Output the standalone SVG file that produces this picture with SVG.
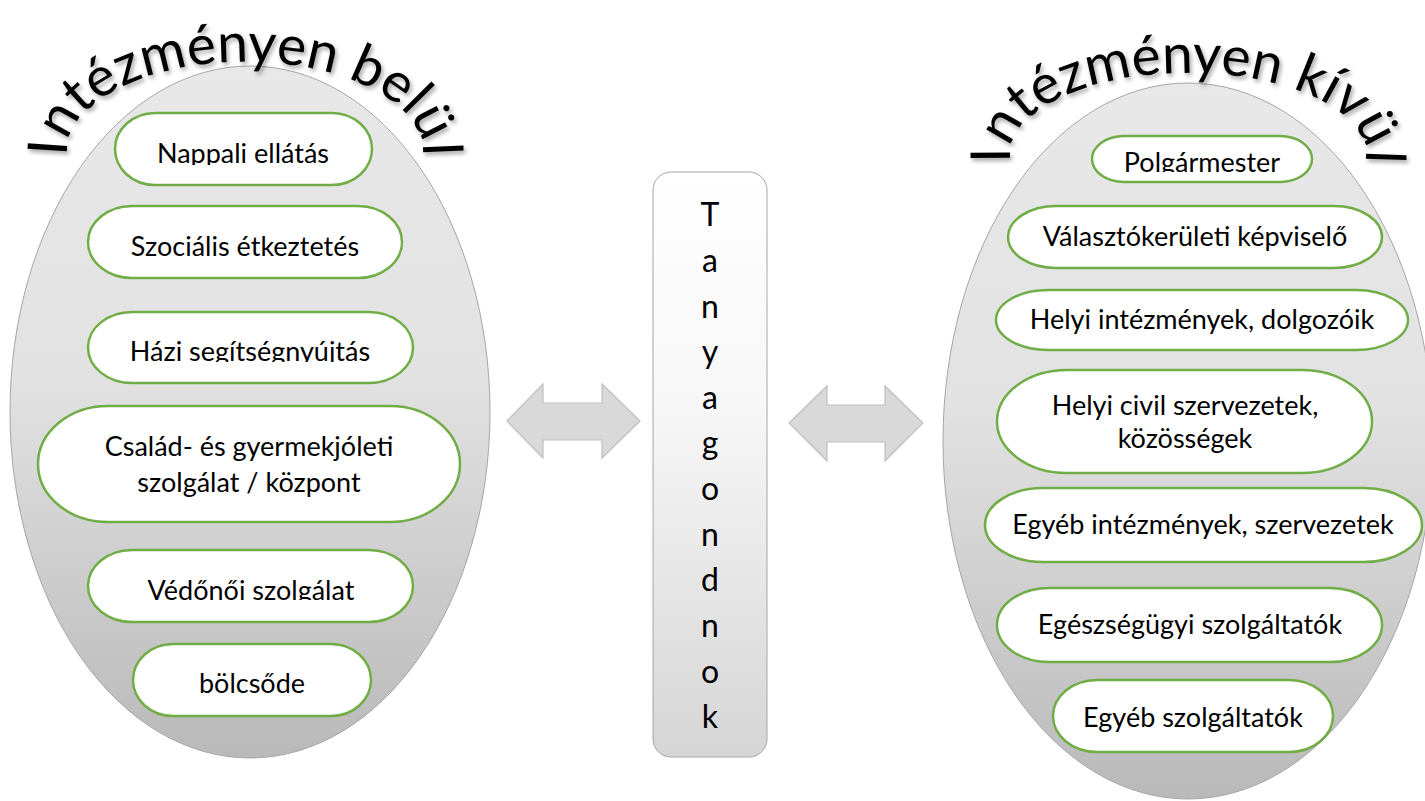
<svg xmlns="http://www.w3.org/2000/svg" width="1425" height="801" viewBox="0 0 1425 801">
<defs>
  <linearGradient id="ovalGrad" x1="0" y1="0" x2="0" y2="1">
    <stop offset="0" stop-color="#e8e8e8"/>
    <stop offset="0.45" stop-color="#e2e2e2"/>
    <stop offset="1" stop-color="#b9b9b9"/>
  </linearGradient>
  <linearGradient id="barGrad" x1="0" y1="0" x2="0" y2="1">
    <stop offset="0" stop-color="#ffffff"/>
    <stop offset="0.4" stop-color="#f7f7f7"/>
    <stop offset="1" stop-color="#d5d5d5"/>
  </linearGradient>
  <filter id="shadow" x="-10%" y="-10%" width="130%" height="130%">
    <feDropShadow dx="2" dy="3" stdDeviation="2" flood-color="#000" flood-opacity="0.35"/>
  </filter>
  <path id="arcLeft" d="M 67.7,159.8 A 178,90 0 1 1 422.3,159.8"/>
  <path id="arcRight" d="M 1010.7,162.1 A 178,82 0 1 1 1365.3,162.1"/>
  <clipPath id="clipNappali"><rect x="100" y="113" width="290" height="52"/></clipPath>
  <clipPath id="clipHazi"><rect x="80" y="312" width="340" height="50"/></clipPath>
  <clipPath id="clipVedo"><rect x="80" y="550" width="340" height="50"/></clipPath>
  <clipPath id="clipPolg"><rect x="1085" y="136" width="240" height="36"/></clipPath>
</defs>
<style>
  .oval { fill: url(#ovalGrad); stroke: #a6a6a6; stroke-width: 1; }
  .box { fill: #ffffff; stroke: #70ad47; stroke-width: 2.5; }
  .lbl { font-family: Lato, "Open Sans", sans-serif; font-size: 27px; fill: #000; text-anchor: middle; }
  .title { font-family: Lato, "Open Sans", sans-serif; font-size: 55px; fill: #000; filter: url(#shadow); }
  .bar { fill: url(#barGrad); stroke: #a6a6a6; stroke-width: 1; }
  .vert { font-family: Lato, "Open Sans", sans-serif; font-size: 32px; fill: #000; text-anchor: middle; }
  .arrow { fill: #d9d9d9; stroke: #bfbfbf; stroke-width: 1.2; }
</style>

<g id="left-group">
  <ellipse class="oval" cx="250" cy="412" rx="240" ry="346"/>
  <text class="title"><textPath href="#arcLeft" startOffset="50%" text-anchor="middle">Intézményen belül</textPath></text>
</g>

<g id="node-nappali">
  <rect class="box" x="115" y="113" width="257" height="72" rx="40" ry="36"/>
  <text class="lbl" x="243" y="163" clip-path="url(#clipNappali)">Nappali ellátás</text>
</g>
<g id="node-szocialis">
  <rect class="box" x="88" y="206" width="314" height="72" rx="44" ry="36"/>
  <text class="lbl" x="245" y="256">Szociális étkeztetés</text>
</g>
<g id="node-hazi">
  <rect class="box" x="88" y="312" width="325" height="71" rx="44" ry="35.5"/>
  <text class="lbl" x="250" y="361" clip-path="url(#clipHazi)">Házi segítségnyújtás</text>
</g>
<g id="node-csalad">
  <rect class="box" x="38" y="406" width="422" height="116" rx="70" ry="58"/>
  <text class="lbl" x="249" y="456">Család- és gyermekjóleti</text>
  <text class="lbl" x="249" y="492">szolgálat / központ</text>
</g>
<g id="node-vedo">
  <rect class="box" x="88" y="550" width="325" height="72" rx="44" ry="36"/>
  <text class="lbl" x="251" y="600" clip-path="url(#clipVedo)">Védőnői szolgálat</text>
</g>
<g id="node-bolcsode">
  <rect class="box" x="133" y="644" width="238" height="72" rx="40" ry="36"/>
  <text class="lbl" x="252" y="693">bölcsőde</text>
</g>

<g id="node-tanyagondnok">
  <rect class="bar" x="653" y="172" width="114" height="585" rx="18" ry="18"/>
  <text class="vert" x="710" y="226">T</text>
  <text class="vert" x="710" y="272">a</text>
  <text class="vert" x="710" y="318">n</text>
  <text class="vert" x="710" y="363">y</text>
  <text class="vert" x="710" y="409">a</text>
  <text class="vert" x="710" y="454">g</text>
  <text class="vert" x="710" y="500">o</text>
  <text class="vert" x="710" y="546">n</text>
  <text class="vert" x="710" y="591">d</text>
  <text class="vert" x="710" y="637">n</text>
  <text class="vert" x="710" y="683">o</text>
  <text class="vert" x="710" y="728">k</text>
</g>

<g id="connectors">
  <polygon class="arrow" points="507,421 543,384 543,403 602,403 602,384 640,421 602,458 602,440 543,440 543,458"/>
  <polygon class="arrow" points="789,423 827,386 827,405 885,405 885,386 923,423 885,461 885,442 827,442 827,461"/>
</g>

<g id="right-group">
  <ellipse class="oval" cx="1188" cy="441" rx="245" ry="358"/>
  <text class="title"><textPath href="#arcRight" startOffset="50%" text-anchor="middle">Intézményen kívül</textPath></text>
</g>

<g id="node-polgarmester">
  <rect class="box" x="1092" y="136" width="220" height="46" rx="32" ry="23"/>
  <text class="lbl" x="1202" y="172" clip-path="url(#clipPolg)">Polgármester</text>
</g>
<g id="node-valasztokeruleti">
  <rect class="box" x="1008" y="206" width="374" height="62" rx="48" ry="31"/>
  <text class="lbl" x="1195" y="246">Választókerületi képviselő</text>
</g>
<g id="node-helyi-intezmenyek">
  <rect class="box" x="996" y="290" width="412" height="60" rx="52" ry="30"/>
  <text class="lbl" x="1202" y="329">Helyi intézmények, dolgozóik</text>
</g>
<g id="node-helyi-civil">
  <rect class="box" x="997" y="370" width="375" height="103" rx="70" ry="51.5"/>
  <text class="lbl" x="1185" y="415">Helyi civil szervezetek,</text>
  <text class="lbl" x="1185" y="448">közösségek</text>
</g>
<g id="node-egyeb-intezmenyek">
  <rect class="box" x="985" y="488" width="437" height="74" rx="58" ry="37"/>
  <text class="lbl" x="1203" y="534">Egyéb intézmények, szervezetek</text>
</g>
<g id="node-egeszsegugyi">
  <rect class="box" x="997" y="588" width="385" height="74" rx="52" ry="37"/>
  <text class="lbl" x="1190" y="634">Egészségügyi szolgáltatók</text>
</g>
<g id="node-egyeb-szolgaltatok">
  <rect class="box" x="1053" y="680" width="280" height="72" rx="44" ry="36"/>
  <text class="lbl" x="1193" y="727">Egyéb szolgáltatók</text>
</g>
</svg>
